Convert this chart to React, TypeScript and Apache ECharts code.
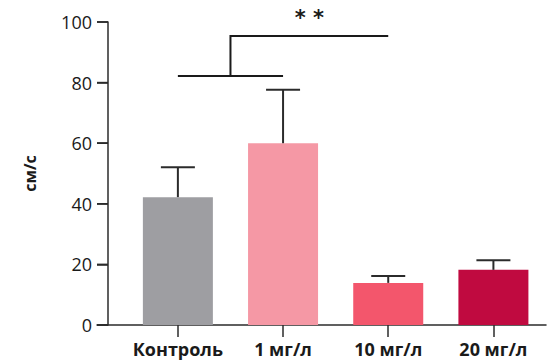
import React, { useEffect, useRef } from "react";
import * as echarts from "echarts";

const categories = ["Контроль", "1 мг/л", "10 мг/л", "20 мг/л"];
const means = [42.2, 60.0, 13.9, 18.2];
const errorTops = [52.1, 77.6, 16.2, 21.4];
const barColors = ["#9e9ea2", "#f598a5", "#f3566c", "#c00a40"];
const yTicks = [0, 20, 40, 60, 80, 100];
// significance bracket: lower bar joins groups 0 and 1, upper joins midpoint to group 2
const bracketLow = { from: 0, to: 1, y: 82.2 };
const bracketHigh = { from: 0.5, to: 2, y: 95.4 };
const sigLabel = "* *";
const sigY = 101.2;
const xMin = -0.769;
const xMax = 3.5;

export default function App() {
  const ref = useRef<HTMLDivElement>(null);
  useEffect(() => {
    if (!ref.current) return;
    const chart = echarts.init(ref.current, null, { renderer: "svg" });
    const idx = categories.map((_, i) => i);
    const axisColor = "#2b2b2b";
    const tickLen = 11;
    chart.setOption({
      animation: false,
      grid: { left: 97, right: 1, top: 22, bottom: 36, containLabel: false },
      xAxis: {
        type: "value",
        min: xMin,
        max: xMax,
        splitLine: { show: false },
        axisLine: { show: true, onZero: false, lineStyle: { color: axisColor, width: 1.5 } },
        axisTick: { show: true, customValues: idx, length: 12, lineStyle: { color: axisColor, width: 1.5 } },
        axisLabel: {
          show: true,
          customValues: idx,
          formatter: (v: number) => categories[Math.round(v)] ?? "",
          fontFamily: "Open Sans",
          fontWeight: "bold",
          fontSize: 18,
          color: "#1a1a1a",
          margin: 15,
        },
      },
      yAxis: {
        type: "value",
        min: yTicks[0],
        max: yTicks[yTicks.length - 1],
        interval: 20,
        offset: -tickLen,
        name: "см/с",
        nameLocation: "middle",
        nameGap: 70,
        nameTextStyle: { fontFamily: "Open Sans", fontWeight: "bold", fontSize: 16, color: "#1a1a1a" },
        splitLine: { show: false },
        axisLine: { show: true, onZero: false, lineStyle: { color: axisColor, width: 1.5 } },
        axisTick: { show: true, inside: false, length: tickLen, lineStyle: { color: axisColor, width: 1.5 } },
        axisLabel: { fontFamily: "Open Sans", fontSize: 18, color: "#1a1a1a", margin: 16 },
      },
      series: [
        {
          type: "bar",
          barWidth: 70,
          data: means.map((m, i) => ({ value: [i, m], itemStyle: { color: barColors[i] } })),
          z: 2,
        },
        {
          type: "custom",
          z: 3,
          data: means.map((m, i) => [i, m, errorTops[i]]),
          renderItem: (params: any, api: any) => {
            const x = api.value(0);
            const base = api.coord([x, api.value(1)]);
            const top = api.coord([x, api.value(2)]);
            const hw = 17;
            const style = { stroke: axisColor, lineWidth: 2 };
            return {
              type: "group",
              children: [
                { type: "line", shape: { x1: base[0], y1: base[1], x2: top[0], y2: top[1] }, style },
                { type: "line", shape: { x1: top[0] - hw, y1: top[1], x2: top[0] + hw, y2: top[1] }, style },
              ],
            };
          },
        },
        {
          // y-axis tick marks: from the grid's left edge to the (offset) axis line
          type: "custom",
          z: 10,
          silent: true,
          data: yTicks.map((v) => [xMin, v]),
          encode: { x: 0, y: 1 },
          renderItem: (params: any, api: any) => {
            const p = api.coord([api.value(0), api.value(1)]);
            return {
              type: "rect",
              shape: { x: p[0], y: p[1] - 0.8, width: tickLen, height: 1.6 },
              style: { fill: axisColor },
            };
          },
        },
        {
          type: "custom",
          z: 3,
          clip: false,
          data: [[0]],
          renderItem: (params: any, api: any) => {
            const a = api.coord([bracketLow.from, bracketLow.y]);
            const b = api.coord([bracketLow.to, bracketLow.y]);
            const m = api.coord([bracketHigh.from, bracketLow.y]);
            const mt = api.coord([bracketHigh.from, bracketHigh.y]);
            const e = api.coord([bracketHigh.to, bracketHigh.y]);
            const t = api.coord([(bracketHigh.from + bracketHigh.to) / 2, sigY]);
            const style = { stroke: "#1a1a1a", lineWidth: 2, fill: "none" };
            return {
              type: "group",
              children: [
                { type: "line", shape: { x1: a[0], y1: a[1], x2: b[0], y2: b[1] }, style },
                { type: "polyline", shape: { points: [m, mt, e] }, style },
                {
                  type: "text",
                  x: t[0],
                  y: t[1],
                  style: {
                    text: sigLabel,
                    fontFamily: "DejaVu Sans",
                    fontWeight: "bold",
                    fontSize: 21,
                    fill: "#1a1a1a",
                    align: "center",
                    verticalAlign: "middle",
                  },
                },
              ],
            };
          },
        },
      ],
    });
    return () => chart.dispose();
  }, []);
  return <div ref={ref} style={{ position: "fixed", left: 0, top: 0, width: 547, height: 361, background: "#fff" }} />;
}
